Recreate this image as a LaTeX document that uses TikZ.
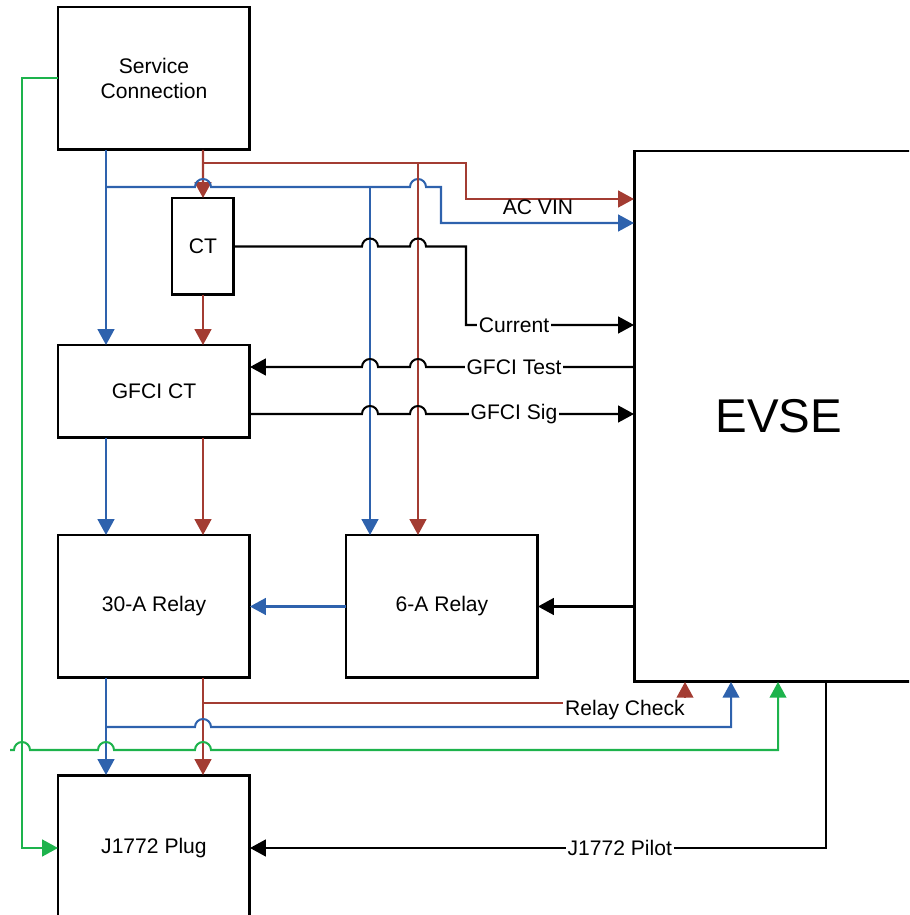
\documentclass[tikz,border=0pt]{standalone}
\usepackage{fontspec}
\setmainfont{Liberation Sans}
\usetikzlibrary{arrows.meta,positioning,calc}
\definecolor{ink}{HTML}{000000}
\definecolor{redline}{HTML}{A33C32}
\definecolor{blueline}{HTML}{2E62AD}
\definecolor{greenline}{HTML}{1DB34C}

% line hops (x of crossed line, y of own line)
\newcommand{\hopR}[2]{-- (#1-8,#2) arc[start angle=180,end angle=0,radius=0.16cm]}
\newcommand{\hopL}[2]{-- (#1+8,#2) arc[start angle=0,end angle=180,radius=0.16cm]}

\begin{document}
\begin{tikzpicture}[
  x=0.02cm, y=-0.02cm,
  font=\fontsize{12}{14.5}\selectfont,
  >={Triangle[length=9pt,width=9.5pt]},
  box/.style={
    draw=ink,
    fill=white,
    line width=1.7pt,
    align=center,
    anchor=north west,
    inner sep=0pt,
    outer sep=0pt
  },
  bus/.style={->, line width=1.15pt, draw=#1},
  sig/.style={->, line width=1.15pt, draw=ink},
  lbl/.style={fill=white, inner sep=1pt}
]

% canvas
\useasboundingbox (0,0) rectangle (909,915);
\clip (0,0) rectangle (909,915);

% Blocks
\node[box, minimum width=3.84cm, minimum height=2.86cm] (svc) at (58,7) {Service\\Connection};
\node[box, minimum width=1.24cm, minimum height=1.94cm] (ct) at (172,198) {CT};
\node[box, minimum width=3.84cm, minimum height=1.86cm] (gfci) at (58,345) {GFCI CT};
\node[box, minimum width=3.84cm, minimum height=2.86cm] (relay30) at (58,535) {30-A Relay};
\node[box, minimum width=3.84cm, minimum height=2.86cm] (relay6) at (346,535) {6-A Relay};
\node[box, minimum width=3.84cm, minimum height=2.92cm] (plug) at (58,775) {J1772 Plug};
\node[box, minimum width=5.8cm, minimum height=10.62cm, font=\fontsize{27}{30}\selectfont] (evse) at (634,151) {EVSE};

% EVSE ports
\coordinate (acR) at ($(evse.north west)+(0,48)$);
\coordinate (acB) at ($(evse.north west)+(0,72)$);
\coordinate (curIn) at ($(evse.north west)+(0,174)$);
\coordinate (tstOut) at ($(evse.north west)+(0,216)$);
\coordinate (sigIn) at ($(evse.north west)+(0,263)$);
\coordinate (rcIn) at ($(evse.south west)+(51,0)$);
\coordinate (rbIn) at ($(evse.south west)+(97,0)$);
\coordinate (plIn) at ($(evse.south west)+(144,0)$);
\coordinate (pilotOut) at ($(evse.south west)+(192,0)$);

% junctions
\coordinate (bJ) at (106,187);
\coordinate (rJ) at (203,163);
\coordinate (bM) at (370,187);
\coordinate (rM) at (418,163);
\coordinate (bJ2) at (106,727);
\coordinate (rJ2) at (203,703);
\coordinate (gL) at (22,79);
\coordinate (gfree) at (10,750);

% AC power from service connection
\draw[bus=blueline] (bJ |- svc.south) -- (bJ |- gfci.north);
\draw[bus=redline] (rJ |- svc.south) -- (ct.north);
\draw[bus=redline] (rJ) -- (466,163) |- (acR);
\draw[bus=blueline] (bJ) \hopR{203}{187} \hopR{418}{187} -- (441,187) |- (acB);
\node[anchor=south] (acvin) at (538,221) {AC VIN};
\draw[bus=redline] (rM) -- (rM |- relay6.north);
\draw[bus=blueline] (bM) -- (bM |- relay6.north);

\draw[bus=redline] (ct.south) -- (ct.south |- gfci.north);
\draw[bus=blueline] (bJ |- gfci.south) -- (bJ |- relay30.north);
\draw[bus=redline] (rJ |- gfci.south) -- (rJ |- relay30.north);
\draw[bus=blueline] (relay6.west) -- (relay30.east);

% Signals
\draw[sig] (ct.east) \hopR{370}{246.5} \hopR{418}{246.5} -- (466,246.5) |- node[lbl, pos=0.643] {Current} (curIn);
\draw[sig] (tstOut) -- node[lbl, pos=0.577] {GFCI Test} (426,367) arc[start angle=0,end angle=180,radius=0.16cm] \hopL{370}{367} -- (gfci.east |- tstOut);
\draw[sig] (gfci.east |- sigIn) \hopR{370}{414} \hopR{418}{414} -- node[lbl, pos=0.423] {GFCI Sig} (sigIn);
\draw[sig] (evse.west |- relay6.east) -- (relay6.east);
\draw[sig] (pilotOut) |- node[lbl, pos=0.679] {J1772 Pilot} (plug.east);

% Relay to plug
\draw[bus=blueline] (bJ2 |- relay30.south) -- (bJ2 |- plug.north);
\draw[bus=redline] (rJ2 |- relay30.south) -- (rJ2 |- plug.north);
\draw[bus=redline] (rJ2) -- node[lbl, pos=0.8755, yshift=-0.14cm] {Relay Check} (685,703) -- (rcIn);
\draw[bus=blueline] (bJ2) \hopR{203}{727} -| (rbIn);

% Pilot / ground
\draw[bus=greenline] (svc.west) -| (gL |- plug.west) -- (plug.west);
\draw[bus=greenline] (gfree) \hopR{22}{750} \hopR{106}{750} \hopR{203}{750} -| (plIn);

\end{tikzpicture}
\end{document}
